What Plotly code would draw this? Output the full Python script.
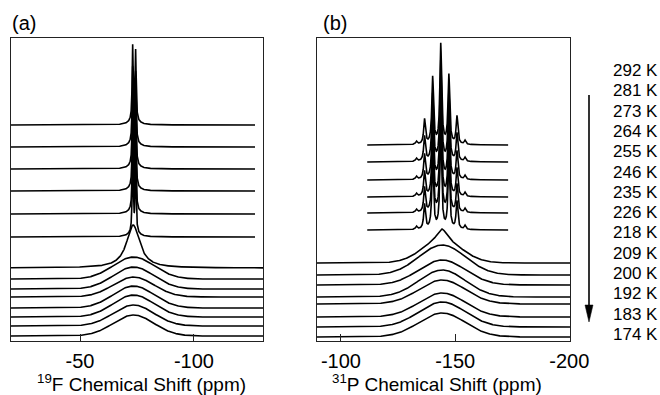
import numpy as np
import plotly.graph_objects as go

W, H = 660, 395

temperatures = [292, 281, 273, 264, 255, 246, 235, 226, 218, 209, 200, 192, 183, 174]

# ---- 19F spectra (panel a) ----
# sharp doublet regime, 292-246 K
f_sharp_offsets = [216, 194, 172, 150, 127, 104]
f_doublet_ppm = [-73.1, -74.4]
f_doublet_heights = [73, 68]
f_doublet_hwhm = 0.25
f_base_ppm, f_base_height, f_base_hwhm = -73.75, 6.0, 2.0
f_sharp_window = [-19.7, -126.8]
# intermediate line, 235 K
f_mid_offset = 73
f_mid_ppm, f_mid_height, f_mid_hwhm = -73.3, 43.0, 3.5
# broad regime, 226-174 K
f_broad_offsets = [62, 52, 44, 33, 24, 15, 5]
f_broad_heights = [22, 22, 20, 22, 22, 21, 21]
f_broad_ppm, f_broad_fwhm = -73.5, 21.0
f_window = [-19.7, -130.3]

# ---- 31P spectra (panel b) ----
# septet regime, 292-246 K
p_sharp_offsets = [196, 179, 161, 144, 128, 111]
p_septet_center = -143.7
p_septet_J = 3.55
p_septet_heights = [4, 28, 69, 100, 67, 25, 3]
p_septet_hwhm = 0.45
p_sharp_window = [-111.5, -173.2]
# intermediate line, 235 K
p_mid_offset = 78
p_mid_ppm = -144.2
p_mid_broad_height, p_mid_sharp_height, p_mid_hwhm = 22.0, 12.0, 2.5
# broad regime, 226-174 K
p_broad_offsets = [66, 56, 44, 37, 24, 14, 4]
p_broad_heights = [30, 25, 27, 24, 24, 25, 24]
p_broad_ppm, p_broad_fwhm = -144.3, 24.0
p_window = [-89.5, -200.3]

f_ticks = [-50, -100]
p_ticks = [-100, -150, -200]


def lorentz(x, x0, h, g):
    return h / (1.0 + ((x - x0) / g) ** 2)


def gauss(x, x0, h, fwhm):
    s = fwhm / 2.3548
    return h * np.exp(-0.5 * ((x - x0) / s) ** 2)


def grid(window, step):
    a, b = window
    n = int(abs(b - a) / step) + 1
    return np.linspace(a, b, n)


fig = go.Figure()
line = dict(color="black", width=1.6)


def add(x, y, axis):
    fig.add_trace(go.Scatter(x=x, y=y, mode="lines", line=line,
                             xaxis="x" + axis, yaxis="y" + axis,
                             showlegend=False, hoverinfo="skip"))


# panel a
xs = grid(f_sharp_window, 0.02)
for off in f_sharp_offsets:
    y = off + lorentz(xs, f_base_ppm, f_base_height, f_base_hwhm)
    for p, h in zip(f_doublet_ppm, f_doublet_heights):
        y = y + lorentz(xs, p, h, f_doublet_hwhm)
    add(xs, y, "")
xb = grid(f_window, 0.1)
add(xb, f_mid_offset + lorentz(xb, f_mid_ppm, f_mid_height, f_mid_hwhm), "")
for off, h in zip(f_broad_offsets, f_broad_heights):
    add(xb, off + gauss(xb, f_broad_ppm, h, f_broad_fwhm), "")

# panel b
xs = grid(p_sharp_window, 0.02)
for off in p_sharp_offsets:
    y = np.full_like(xs, float(off))
    for k, h in enumerate(p_septet_heights):
        y = y + lorentz(xs, p_septet_center + (k - 3) * p_septet_J, h, p_septet_hwhm)
    add(xs, y, "2")
xb = grid(p_window, 0.1)
y = (p_mid_offset + gauss(xb, p_mid_ppm, p_mid_broad_height, p_broad_fwhm * 0.85)
     + lorentz(xb, p_mid_ppm, p_mid_sharp_height, p_mid_hwhm))
add(xb, y, "2")
for off, h in zip(p_broad_offsets, p_broad_heights):
    add(xb, off + gauss(xb, p_broad_ppm, h, p_broad_fwhm), "2")


def X(px):
    return px / W


def Y(py):
    return 1 - py / H


ydom = [Y(341), Y(38)]
axis_common = dict(showline=True, mirror=True, linecolor="#222", linewidth=1,
                   showgrid=False, zeroline=False, automargin=False)
xcommon = dict(axis_common, ticks="inside", ticklen=7, tickwidth=1, tickcolor="#222",
               tickfont=dict(family="Liberation Sans, Arial, sans-serif", size=20, color="black"),
               ticklabelstandoff=2)
ycommon = dict(axis_common, showticklabels=False, ticks="", range=[0, 303], domain=ydom)

fig.update_layout(
    width=W, height=H, autosize=False,
    margin=dict(l=0, r=0, t=0, b=0, pad=0, autoexpand=False),
    paper_bgcolor="white", plot_bgcolor="white",
    xaxis=dict(xcommon, domain=[X(11), X(263)], range=f_window,
               tickvals=f_ticks, ticktext=[str(v) for v in f_ticks], anchor="y"),
    yaxis=dict(ycommon, anchor="x"),
    xaxis2=dict(xcommon, domain=[X(317), X(570)], range=p_window,
                tickvals=p_ticks, ticktext=[str(v) for v in p_ticks], anchor="y2"),
    yaxis2=dict(ycommon, anchor="x2"),
)

font = "Liberation Sans, Arial, sans-serif"
ann = []
ann.append(dict(x=X(10), y=Y(23), text="(a)", xanchor="left", yanchor="middle",
                font=dict(family=font, size=20, color="black")))
ann.append(dict(x=X(321), y=Y(23), text="(b)", xanchor="left", yanchor="middle",
                font=dict(family=font, size=20, color="black")))
ann.append(dict(x=X(141), y=Y(382.5), text="<sup>19</sup>F Chemical Shift (ppm)",
                xanchor="center", yanchor="middle",
                font=dict(family=font, size=19, color="black")))
ann.append(dict(x=X(437), y=Y(382.5), text="<sup>31</sup>P Chemical Shift (ppm)",
                xanchor="center", yanchor="middle",
                font=dict(family=font, size=19, color="black")))
for i, t in enumerate(temperatures):
    ann.append(dict(x=X(611), y=Y(70.5 + i * 20.3), text=f"{t} K",
                    xanchor="left", yanchor="middle",
                    font=dict(family=font, size=17, color="black")))
for a in ann:
    a.update(xref="paper", yref="paper", showarrow=False)
fig.update_layout(annotations=ann)

# temperature direction arrow
fig.add_shape(type="line", xref="paper", yref="paper",
              x0=X(589), x1=X(589), y0=Y(95), y1=Y(308),
              line=dict(color="black", width=1.6))
fig.add_shape(type="path", xref="paper", yref="paper",
              path=f"M {X(585)},{Y(305)} L {X(593)},{Y(305)} L {X(589)},{Y(322)} Z",
              fillcolor="black", line=dict(color="black", width=0.5))

fig.write_html("out.html")
